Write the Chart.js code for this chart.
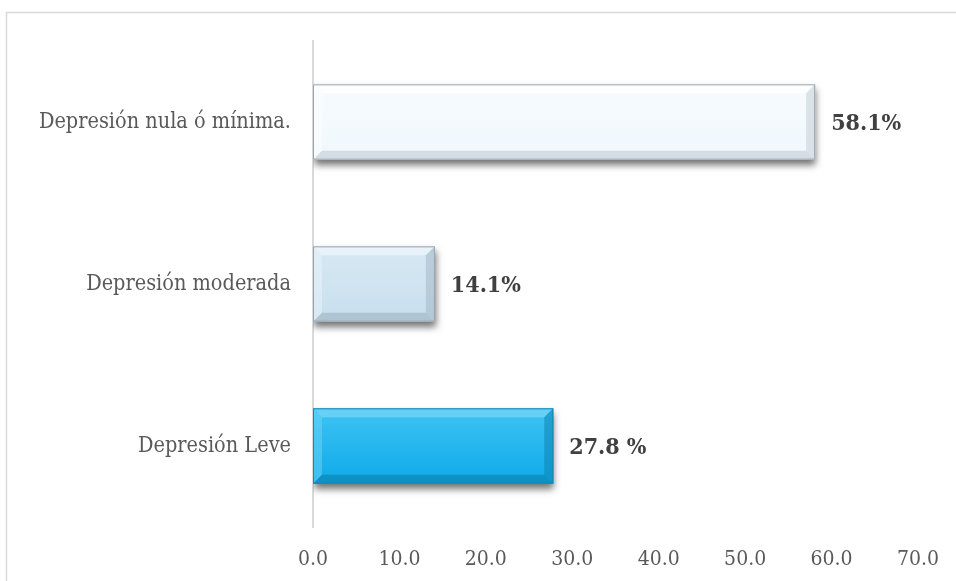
<!DOCTYPE html>
<html><head><meta charset="utf-8">
<script src="https://cdn.jsdelivr.net/npm/chart.js@4"></script>
<style>html,body{margin:0;padding:0;background:#fff}#wrap{width:956px;height:581px;position:relative}</style>
</head><body><div id="wrap"><canvas id="c" width="956" height="581"></canvas></div>
<script>
const categories = ["Depresión nula ó mínima.", "Depresión moderada", "Depresión Leve"];
const values = [58.1, 14.1, 27.8];
const valueLabels = ["58.1%", "14.1%", "27.8 %"];
const tickValues = [0, 10, 20, 30, 40, 50, 60, 70];

const fillTop = ["#F7FBFE", "#D6E8F3", "#3EC3F3"];
const fillBottom = ["#F0F8FD", "#C9DFEE", "#0EAAE9"];
const lightEdge = ["#FFFFFF", "#EEF6FB", "#7AD6F6"];
const darkEdge = ["#C2CCD2", "#9FB3C1", "#0C80AE"];
const FONT = "'DejaVu Serif Condensed', 'DejaVu Serif', serif";

const framePlugin = {
  id: 'frame',
  beforeDraw(chart) {
    const ctx = chart.ctx;
    ctx.save();
    ctx.fillStyle = '#fff';
    ctx.fillRect(0, 0, chart.width, chart.height);
    ctx.strokeStyle = '#D9D9D9';
    ctx.lineWidth = 1.5;
    ctx.strokeRect(6.5, 12.5, chart.width + 20, chart.height + 20);
    ctx.restore();
  }
};

const shadowPlugin = {
  id: 'shadow',
  beforeDatasetDraw(chart) {
    const ctx = chart.ctx;
    ctx.save();
    ctx.shadowColor = 'rgba(0,0,0,0.55)';
    ctx.shadowBlur = 7;
    ctx.shadowOffsetX = 1;
    ctx.shadowOffsetY = 5;
  },
  afterDatasetDraw(chart) {
    chart.ctx.restore();
  }
};

const bevelPlugin = {
  id: 'bevel',
  afterDatasetsDraw(chart) {
    const ctx = chart.ctx;
    const meta = chart.getDatasetMeta(0);
    meta.data.forEach((bar, i) => {
      const p = bar.getProps(['x', 'y', 'base', 'height'], true);
      const l = p.base, r = p.x, t = p.y - p.height / 2, b = p.y + p.height / 2;
      const s = 9;
      ctx.save();
      const g = ctx.createLinearGradient(0, t, 0, b);
      g.addColorStop(0, fillTop[i]);
      g.addColorStop(1, fillBottom[i]);
      ctx.fillStyle = g;
      ctx.fillRect(l, t, r - l, b - t);
      ctx.fillStyle = lightEdge[i];
      ctx.globalAlpha = 0.7;
      ctx.beginPath(); ctx.moveTo(l, t); ctx.lineTo(r, t); ctx.lineTo(r - s, t + s); ctx.lineTo(l + s, t + s); ctx.closePath(); ctx.fill();
      ctx.globalAlpha = 0.45;
      ctx.beginPath(); ctx.moveTo(l, t); ctx.lineTo(l + s, t + s); ctx.lineTo(l + s, b - s); ctx.lineTo(l, b); ctx.closePath(); ctx.fill();
      ctx.fillStyle = darkEdge[i];
      ctx.globalAlpha = 0.6;
      ctx.beginPath(); ctx.moveTo(l, b); ctx.lineTo(r, b); ctx.lineTo(r - s, b - s); ctx.lineTo(l + s, b - s); ctx.closePath(); ctx.fill();
      ctx.globalAlpha = 0.5;
      ctx.beginPath(); ctx.moveTo(r, t); ctx.lineTo(r, b); ctx.lineTo(r - s, b - s); ctx.lineTo(r - s, t + s); ctx.closePath(); ctx.fill();
      ctx.globalAlpha = 1;
      ctx.strokeStyle = i === 2 ? '#1A86B0' : '#9AA3A9';
      ctx.lineWidth = 1;
      ctx.strokeRect(l + 0.5, t + 0.5, r - l - 1, b - t - 1);
      ctx.restore();
      ctx.save();
      ctx.fillStyle = '#404040';
      ctx.font = "bold 23px " + FONT;
      ctx.textAlign = 'left';
      ctx.textBaseline = 'middle';
      ctx.fillText(valueLabels[i], r + 16, p.y + 2);
      ctx.restore();
    });
  }
};

new Chart(document.getElementById('c'), {
  type: 'bar',
  data: {
    labels: categories,
    datasets: [{
      data: values,
      backgroundColor: fillBottom,
      borderWidth: 0,
      barPercentage: 0.93,
      categoryPercentage: 0.5
    }]
  },
  options: {
    indexAxis: 'y',
    responsive: false,
    animation: false,
    events: [],
    layout: { padding: { left: 0, right: 38, top: 41, bottom: 0 } },
    plugins: { legend: { display: false }, tooltip: { enabled: false } },
    scales: {
      x: {
        min: 0, max: 70,
        afterBuildTicks(axis) { axis.ticks = tickValues.map(v => ({ value: v })); },
        grid: { display: false, drawTicks: false },
        border: { display: false },
        ticks: {
          padding: 20,
          color: '#595959',
          font: { family: FONT, size: 21 },
          callback: v => Number(v).toFixed(1)
        },
        afterFit(axis) { axis.height = 54; axis.paddingLeft = 0; axis.paddingRight = 0; }
      },
      y: {
        grid: { display: false, drawTicks: false },
        border: { display: true, color: '#D9D9D9', width: 2 },
        ticks: {
          padding: 22,
          color: '#595959',
          font: { family: FONT, size: 21.5 }
        },
        afterFit(axis) { axis.width = 313; }
      }
    }
  },
  plugins: [framePlugin, shadowPlugin, bevelPlugin]
});
</script></body></html>
